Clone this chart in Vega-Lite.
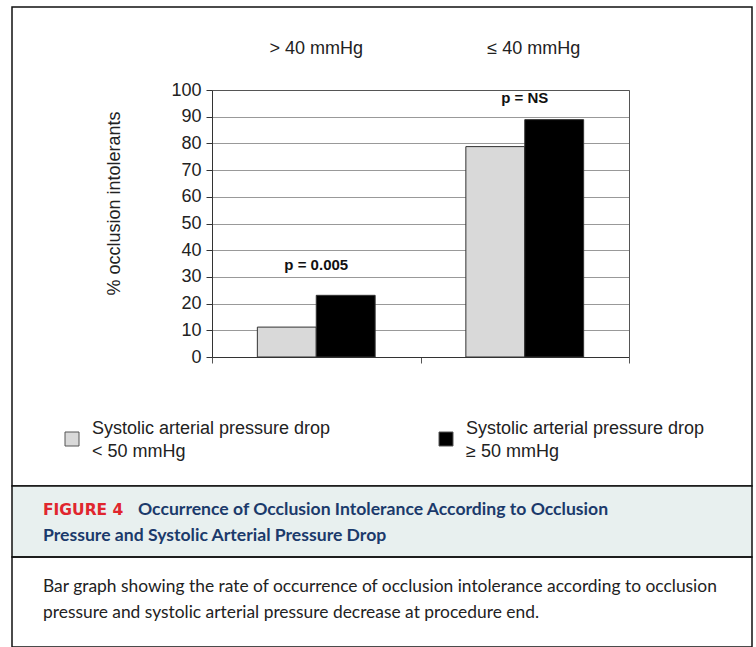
{
  "$schema": "https://vega.github.io/schema/vega-lite/v6.json",
  "padding": {"left": 11, "top": 6, "right": 4, "bottom": 0},
  "background": "#ffffff",
  "spacing": 0,
  "bounds": "flush",
  "resolve": {"scale": {"color": "independent"}, "legend": {"color": "independent"}},
  "config": {"font": "Liberation Sans", "concat": {"spacing": 0}, "style": {"guide-label": {"lineHeight": 23}}},
  "vconcat": [
    {
      "width": 740,
      "height": 479,
      "view": {"stroke": "#111111", "strokeWidth": 1.5},
      "resolve": {"axis": {"x": "independent", "y": "independent"}},
      "layer": [
        {
          "data": {"values": [
            {"occl": "> 40 mmHg", "drop": "< 50 mmHg", "pct": 11.2},
            {"occl": "> 40 mmHg", "drop": "≥ 50 mmHg", "pct": 23.1},
            {"occl": "≤ 40 mmHg", "drop": "< 50 mmHg", "pct": 78.8},
            {"occl": "≤ 40 mmHg", "drop": "≥ 50 mmHg", "pct": 88.9}
          ]},
          "mark": {"type": "bar", "stroke": "#333333", "strokeWidth": 1},
          "encoding": {
            "x": {
              "field": "occl", "type": "nominal", "sort": ["> 40 mmHg", "≤ 40 mmHg"],
              "scale": {"domain": ["> 40 mmHg", "≤ 40 mmHg"], "range": [200, 617], "paddingInner": 0, "paddingOuter": 0},
              "axis": {"orient": "bottom", "offset": -129, "labels": false, "ticks": true, "tickBand": "extent", "tickSize": 6, "tickColor": "#555555", "domain": true, "domainColor": "#333333", "grid": false, "title": null}
            },
            "xOffset": {
              "field": "drop", "type": "nominal", "sort": ["< 50 mmHg", "≥ 50 mmHg"],
              "scale": {"paddingInner": 0, "paddingOuter": 0.77}
            },
            "y": {
              "field": "pct", "type": "quantitative",
              "scale": {"domain": [0, 100], "nice": false, "range": [350, 83]},
              "axis": {
                "orient": "left", "offset": -200, "values": [0, 10, 20, 30, 40, 50, 60, 70, 80, 90, 100],
                "grid": true, "gridColor": "#999999", "gridWidth": 1,
                "domain": true, "domainColor": "#333333", "tickColor": "#333333", "tickSize": 6,
                "labelFontSize": 18, "labelColor": "#222222", "labelPadding": 5,
                "title": "% occlusion intolerants", "titleFontSize": 18, "titleFontWeight": "normal", "titleColor": "#222222",
                "titleX": -98, "titleY": 196, "titleAngle": 270, "titleBaseline": "middle", "titleAlign": "center"
              }
            },
            "color": {
              "field": "drop", "type": "nominal",
              "scale": {"domain": ["< 50 mmHg", "≥ 50 mmHg"], "range": ["#d9d9d9", "#000000"]},
              "legend": {
                "orient": "none", "legendX": 51, "legendY": 413, "title": null, "padding": 0,
                "columns": 2, "columnPadding": 106,
                "symbolType": "M-1,0.43L1,0.43L1,2.43L-1,2.43Z", "symbolSize": 196,
                "symbolStrokeColor": "#555555", "symbolStrokeWidth": 1, "symbolOpacity": 1,
                "labelFontSize": 18, "labelColor": "#222222", "labelOffset": 11, "labelLimit": 400,
                "labelExpr": "['Systolic arterial pressure drop', datum.label]"
              }
            }
          }
        },
        {
          "data": {"values": [
            {"occl": "> 40 mmHg", "p": "p = 0.005", "ypos": 34.5},
            {"occl": "≤ 40 mmHg", "p": "p = NS", "ypos": 97.1}
          ]},
          "mark": {"type": "text", "fontWeight": "bold", "fontSize": 15, "color": "#111111", "baseline": "middle", "align": "center"},
          "encoding": {
            "x": {
              "field": "occl", "type": "nominal", "sort": ["> 40 mmHg", "≤ 40 mmHg"],
              "axis": {"orient": "top", "offset": -83, "ticks": false, "domain": true, "domainColor": "#555555", "grid": false, "title": null, "labelAngle": 0, "labelFontSize": 18, "labelColor": "#222222", "labelPadding": 33,
                "labelOffset": {"condition": {"test": "datum.index > 0.5", "value": 9}, "value": 0}}
            },
            "y": {
              "field": "ypos", "type": "quantitative",
              "axis": {"orient": "right", "offset": -123, "ticks": false, "labels": false, "domain": true, "domainColor": "#555555", "grid": false, "title": null}
            },
            "text": {"field": "p"}
          }
        }
      ]
    },
    {
      "width": 740,
      "height": 71,
      "view": {"fill": "#e8f0ef", "stroke": "#111111", "strokeWidth": 1.5},
      "data": {"values": [
        {"col": "a", "row": 1, "kind": "fig", "text": "FIGURE 4"},
        {"col": "b", "row": 1, "kind": "cap", "text": "Occurrence of Occlusion Intolerance According to Occlusion"},
        {"col": "a", "row": 2, "kind": "cap", "text": "Pressure and Systolic Arterial Pressure Drop"}
      ]},
      "encoding": {
        "x": {"field": "col", "type": "ordinal", "scale": {"type": "point", "domain": ["a", "b"], "range": [31, 126], "padding": 0}, "axis": null},
        "y": {"field": "row", "type": "ordinal", "scale": {"type": "point", "domain": [1, 2], "range": [24, 50], "padding": 0}, "axis": null},
        "text": {"field": "text"}
      },
      "layer": [
        {
          "transform": [{"filter": "datum.kind == 'fig'"}],
          "mark": {"type": "text", "align": "left", "baseline": "middle", "fontWeight": "bold", "fontSize": 15.5, "font": "DejaVu Sans", "color": "#e0262e"}
        },
        {
          "transform": [{"filter": "datum.kind == 'cap'"}],
          "mark": {"type": "text", "align": "left", "baseline": "middle", "fontWeight": "bold", "fontSize": 17.6, "font": "Lato", "color": "#1b3a6b"}
        }
      ]
    },
    {
      "width": 740,
      "height": 90,
      "view": {"stroke": "#111111", "strokeWidth": 1.5},
      "data": {"values": [
        {"col": "a", "row": 1, "text": "Bar graph showing the rate of occurrence of occlusion intolerance according to occlusion"},
        {"col": "a", "row": 2, "text": "pressure and systolic arterial pressure decrease at procedure end."}
      ]},
      "mark": {"type": "text", "align": "left", "baseline": "middle", "fontSize": 17.4, "font": "Lato", "color": "#222222"},
      "encoding": {
        "x": {"field": "col", "type": "ordinal", "scale": {"type": "point", "domain": ["a", "b"], "range": [31, 126], "padding": 0}, "axis": null},
        "y": {"field": "row", "type": "ordinal", "scale": {"type": "point", "domain": [1, 2], "range": [30, 56], "padding": 0}, "axis": null},
        "text": {"field": "text"}
      }
    }
  ]
}
